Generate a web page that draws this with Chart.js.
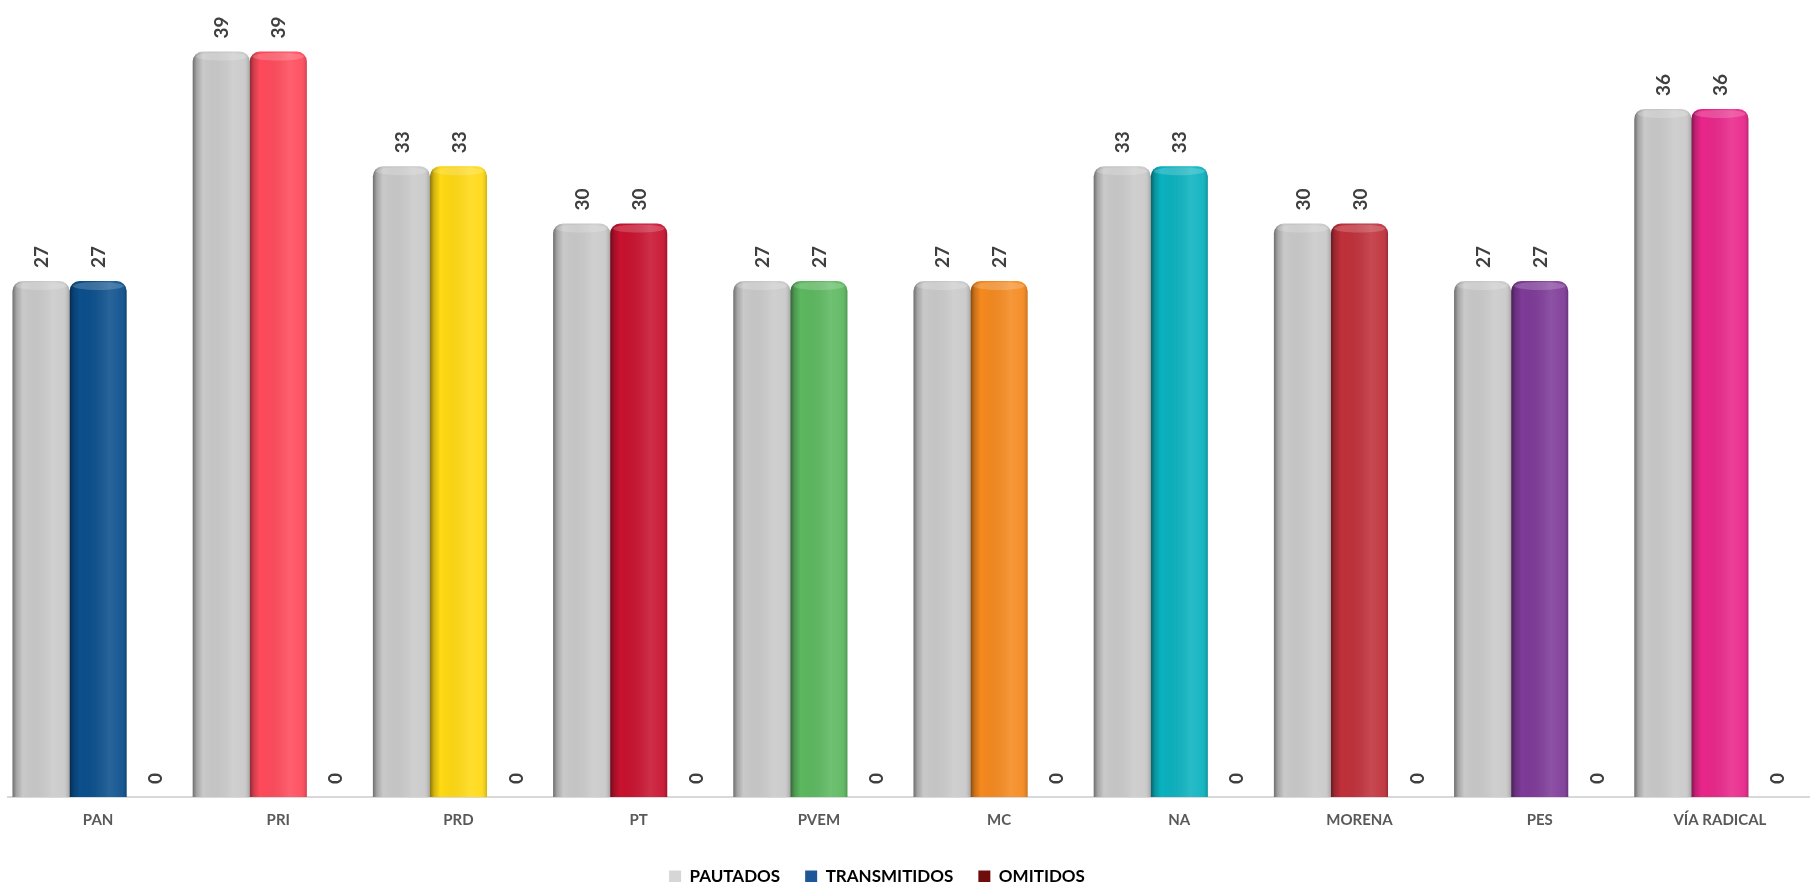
<!DOCTYPE html>
<html>
<head>
<meta charset="utf-8">
<script src="https://cdnjs.cloudflare.com/ajax/libs/Chart.js/4.4.1/chart.umd.min.js"></script>
<style>
  html, body { margin: 0; padding: 0; background: #fff; }
  #wrap { width: 1810px; height: 882px; position: relative; }
</style>
</head>
<body>
<div id="wrap"><canvas id="spotsChart"></canvas></div>
<script>
// categories + series
const partidos = ["PAN", "PRI", "PRD", "PT", "PVEM", "MC", "NA", "MORENA", "PES", "VÍA RADICAL"];
const pautados = [27, 39, 33, 30, 27, 27, 33, 30, 27, 36];
const transmitidos = [27, 39, 33, 30, 27, 27, 33, 30, 27, 36];
const omitidos = [0, 0, 0, 0, 0, 0, 0, 0, 0, 0];

// one colour per party for the transmitted bar
const partyColors = ["#0b4f8c", "#ff4a5b", "#ffd912", "#c8122f", "#5cb85f", "#f5891e",
                     "#0ab2bf", "#c0303a", "#7e3a98", "#e9268a"];
const grayColor = "#c9c9c9";
const omitColor = "#6f0c0c";

const labelFont = "Lato, 'Noto Sans', sans-serif";

// shading on top of each bar so they look a bit like cylinders
const cylinderPlugin = {
  id: "cylinder",
  afterDatasetsDraw(chart) {
    const ctx = chart.ctx;
    chart.data.datasets.forEach((ds, di) => {
      const meta = chart.getDatasetMeta(di);
      meta.data.forEach((bar) => {
        const p = bar.getProps(["x", "y", "base", "width"], true);
        const h = p.base - p.y;
        if (h <= 1) return;
        const left = p.x - p.width / 2;
        const g = ctx.createLinearGradient(left, 0, left + p.width, 0);
        g.addColorStop(0, "rgba(0,0,0,0.45)");
        g.addColorStop(0.07, "rgba(0,0,0,0.18)");
        g.addColorStop(0.18, "rgba(0,0,0,0)");
        g.addColorStop(0.7, "rgba(255,255,255,0.12)");
        g.addColorStop(0.9, "rgba(255,255,255,0.06)");
        g.addColorStop(1, "rgba(0,0,0,0.18)");
        ctx.save();
        ctx.beginPath();
        ctx.roundRect(left, p.y, p.width, h, [10, 10, 0, 0]);
        ctx.fillStyle = g;
        ctx.fill();
        // light rim on the cap
        ctx.beginPath();
        ctx.ellipse(p.x, p.y + 5, p.width / 2 - 3, 4, 0, 0, Math.PI * 2);
        ctx.fillStyle = "rgba(255,255,255,0.18)";
        ctx.fill();
        ctx.restore();
      });
    });
  }
};

// rotated value labels above each bar
const valueLabels = {
  id: "valueLabels",
  afterDatasetsDraw(chart) {
    const ctx = chart.ctx;
    ctx.save();
    ctx.font = "bold 19px " + labelFont;
    ctx.fillStyle = "#3f3f3f";
    ctx.textAlign = "left";
    ctx.textBaseline = "middle";
    chart.data.datasets.forEach((ds, di) => {
      const meta = chart.getDatasetMeta(di);
      meta.data.forEach((bar, i) => {
        const p = bar.getProps(["x", "y"], true);
        ctx.save();
        ctx.translate(p.x, p.y - 13);
        ctx.rotate(-Math.PI / 2);
        ctx.fillText(String(ds.data[i]), 0, 1);
        ctx.restore();
      });
    });
    ctx.restore();
  }
};

// the legend in the original sits a little left of the page centre
const legendShift = {
  id: "legendShift",
  afterLayout(chart) {
    chart.legend.left -= 32;
    chart.legend.right -= 32;
  }
};

const ctx = document.getElementById("spotsChart").getContext("2d");

const legendGradient = ctx.createLinearGradient(0, 0, 12, 0);
legendGradient.addColorStop(0, "#9a9a9a");
legendGradient.addColorStop(1, "#d6d6d6");

new Chart(ctx, {
  type: "bar",
  data: {
    labels: partidos,
    datasets: [
      {
        label: "PAUTADOS",
        data: pautados,
        backgroundColor: grayColor,
        borderRadius: { topLeft: 10, topRight: 10 },
        borderSkipped: "bottom"
      },
      {
        label: "TRANSMITIDOS",
        data: transmitidos,
        backgroundColor: partyColors,
        borderRadius: { topLeft: 10, topRight: 10 },
        borderSkipped: "bottom"
      },
      {
        label: "OMITIDOS",
        data: omitidos,
        backgroundColor: omitColor
      }
    ]
  },
  options: {
    responsive: true,
    maintainAspectRatio: false,
    animation: false,
    layout: { padding: { left: 8, right: 0, top: 0, bottom: -13 } },
    categoryPercentage: 0.95,
    barPercentage: 1.0,
    scales: {
      x: {
        grid: { display: false, drawTicks: false },
        border: { display: true, color: "#d9d9d9", width: 2 },
        ticks: {
          color: "#595959",
          font: { family: labelFont, size: 15, weight: "bold" },
          padding: 14,
          maxRotation: 0,
          autoSkip: false
        }
      },
      y: {
        display: false,
        min: 0,
        max: 41.7
      }
    },
    plugins: {
      tooltip: { enabled: false },
      legend: {
        position: "bottom",
        labels: {
          color: "#404040",
          font: { family: labelFont, size: 17, weight: "bold" },
          boxWidth: 12,
          boxHeight: 12,
          padding: 25,
          generateLabels() {
            return [
              { text: "PAUTADOS", fillStyle: legendGradient, strokeStyle: "transparent", lineWidth: 0, datasetIndex: 0 },
              { text: "TRANSMITIDOS", fillStyle: "#1d5797", strokeStyle: "transparent", lineWidth: 0, datasetIndex: 1 },
              { text: "OMITIDOS", fillStyle: omitColor, strokeStyle: "transparent", lineWidth: 0, datasetIndex: 2 }
            ];
          }
        }
      }
    }
  },
  plugins: [cylinderPlugin, valueLabels, legendShift]
});
</script>
</body>
</html>
